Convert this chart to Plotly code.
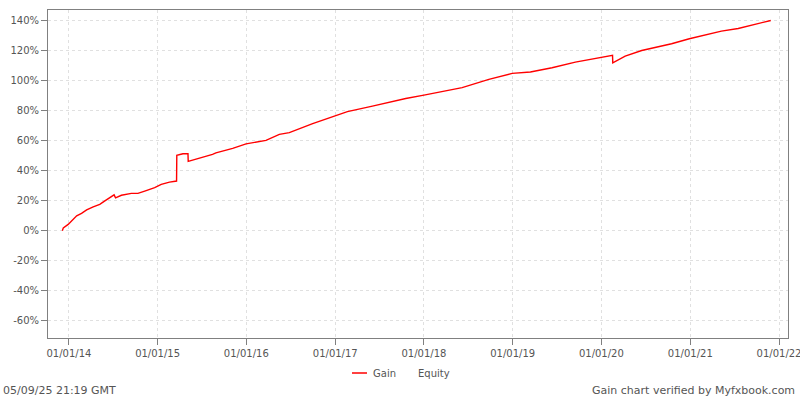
import plotly.graph_objects as go

dates = [
    "2013-12-05", "2013-12-09", "2013-12-29", "2014-01-12", "2014-01-26", "2014-02-02",
    "2014-02-22", "2014-03-15", "2014-04-11", "2014-05-08", "2014-05-29", "2014-06-18",
    "2014-07-06", "2014-07-12", "2014-08-05", "2014-09-15", "2014-10-12", "2014-11-09",
    "2014-12-20", "2015-01-16", "2015-02-19", "2015-03-20", "2015-03-21", "2015-04-15",
    "2015-05-06", "2015-05-07", "2015-06-22", "2015-08-15", "2015-08-29", "2015-11-06",
    "2015-12-31", "2016-03-22", "2016-05-16", "2016-06-26", "2016-09-30", "2017-01-04",
    "2017-02-20", "2017-06-03", "2017-10-18", "2018-01-01", "2018-05-11", "2018-06-07",
    "2018-09-25", "2018-12-30", "2019-03-15", "2019-06-12", "2019-09-16", "2019-12-07",
    "2020-02-16", "2020-02-17", "2020-04-08", "2020-06-15", "2020-10-16", "2020-12-28",
    "2021-05-09", "2021-07-17", "2021-11-28",
]
gain = [
    0.0, 2.0, 4.3, 6.5, 9.0, 10.0,
    11.7, 14.0, 16.0, 17.7, 20.0, 22.0,
    24.0, 22.0, 23.7, 25.0, 25.0, 26.5,
    28.8, 31.0, 32.5, 33.2, 50.3, 51.4,
    51.4, 46.3, 48.3, 51.0, 52.0, 55.0,
    58.0, 60.3, 64.3, 65.5, 71.5, 77.0,
    79.5, 83.2, 88.3, 90.5, 94.8, 95.5,
    101.0, 105.0, 105.9, 108.8, 112.5, 114.8,
    117.0, 112.1, 116.5, 120.3, 124.8, 128.1,
    133.2, 135.0, 140.3,
]
year_ticks = ["2014-01-01", "2015-01-01", "2016-01-01", "2017-01-01", "2018-01-01",
              "2019-01-01", "2020-01-01", "2021-01-01", "2022-01-01"]
y_ticks = [-60, -40, -20, 0, 20, 40, 60, 80, 100, 120, 140]
y_labels = [f"{v}%" for v in y_ticks]

FONT = "DejaVu Sans"
TXT = "#555555"

# plot area in pixels: left 48, right 788, top 10, bottom 338
PW, PH = 740.0, 328.0


def px_x(p):
    return (p - 48) / PW


def px_y(p):
    return (338 - p) / PH


fig = go.Figure()
fig.add_trace(go.Scatter(x=dates, y=gain, mode="lines", name="Gain",
                         line=dict(color="#ff0000", width=1.4), showlegend=False))

axis_common = dict(showline=True, linecolor="#808080", linewidth=1, mirror=True,
                   showgrid=True, gridcolor="#e0e0e0", griddash="3px,3px", gridwidth=1,
                   ticks="outside", ticklen=6, tickcolor="#808080", automargin=False,
                   ticklabeloverflow="allow",
                   tickfont=dict(family=FONT, size=10, color=TXT), zeroline=False)

fig.update_xaxes(type="date", range=["2013-10-07", "2022-02-07"],
                 tickvals=year_ticks, tickformat="%d/%m/%y", **axis_common)
fig.update_yaxes(range=[-71.5, 147.3], tickvals=y_ticks, ticktext=y_labels, **axis_common)

fig.update_layout(
    width=800, height=400,
    margin=dict(l=48, r=12, t=10, b=62),
    paper_bgcolor="white", plot_bgcolor="white",
    font=dict(family=FONT, color=TXT),
    showlegend=False,
    shapes=[
        dict(type="line", xref="paper", yref="paper",
             x0=px_x(352), x1=px_x(367), y0=px_y(373), y1=px_y(373),
             line=dict(color="#ff0000", width=1.5)),
    ],
    annotations=[
        dict(text="Gain", xref="paper", yref="paper", x=px_x(371), y=px_y(373),
             xanchor="left", yanchor="middle", showarrow=False,
             font=dict(family=FONT, size=10, color=TXT)),
        dict(text="Equity", xref="paper", yref="paper", x=px_x(416), y=px_y(373),
             xanchor="left", yanchor="middle", showarrow=False,
             font=dict(family=FONT, size=10, color=TXT)),
        dict(text="05/09/25 21:19 GMT", xref="paper", yref="paper", x=px_x(1), y=px_y(390),
             xanchor="left", yanchor="middle", showarrow=False,
             font=dict(family=FONT, size=11, color=TXT)),
        dict(text="Gain chart verified by Myfxbook.com", xref="paper", yref="paper",
             x=px_x(797), y=px_y(390), xanchor="right", yanchor="middle", showarrow=False,
             font=dict(family=FONT, size=11, color=TXT)),
    ],
)

fig.write_html("out.html", config={"displayModeBar": False},
               post_script="document.body.style.margin='0px';document.body.style.overflow='hidden';")
